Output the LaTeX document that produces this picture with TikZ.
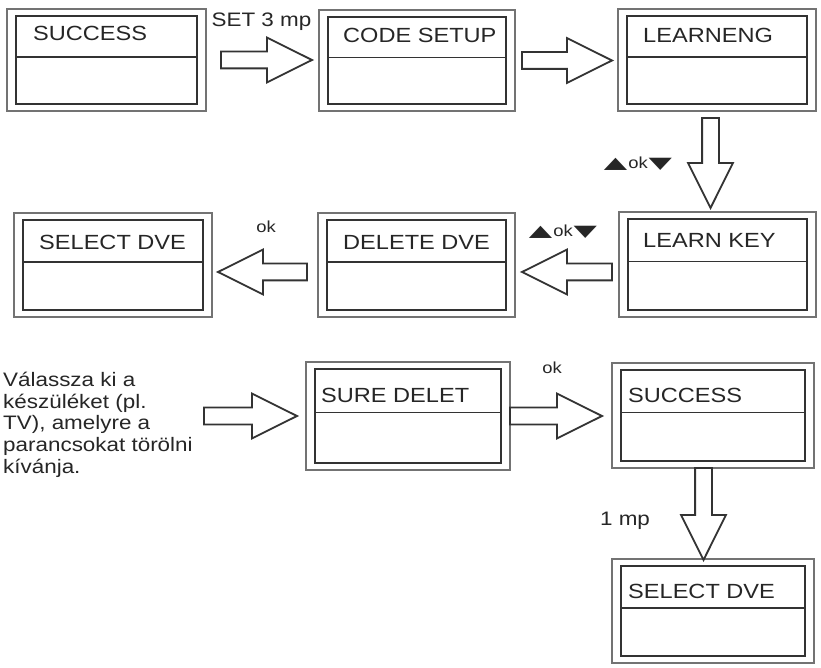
\documentclass[tikz,border=0pt]{standalone}
\usepackage{fontspec}
\setmainfont{Liberation Sans}
\newfontfamily\boxfont[FakeStretch=1.15]{Liberation Sans}
\newfontfamily\symfont[FakeStretch=1.9]{DejaVu Sans}
\usetikzlibrary{shapes.arrows,calc}

\newcommand\keyup{{\symfont\fontsize{16}{18}\selectfont ▲}}
\newcommand\keydown{{\symfont\fontsize{16}{18}\selectfont ▼}}

\tikzset{
  screen/.style={draw=black!55, line width=1.2pt, inner sep=0pt, outer sep=0pt,
    path picture={
      \draw[black!80, line width=1.5pt]
        ([shift={(9pt,-7pt)}]path picture bounding box.north west) rectangle
        ([shift={(-9pt,7pt)}]path picture bounding box.south east);
      \draw[black!80, line width=1.3pt]
        ($(path picture bounding box.north west)!0.47!(path picture bounding box.south west)+(9pt,0pt)$) --
        ($(path picture bounding box.north east)!0.47!(path picture bounding box.south east)+(-9pt,0pt)$);
    }},
  title/.style={anchor=base west, inner sep=0pt, text=black!85,
    font=\boxfont\fontsize{20.5}{24}\selectfont},
  lbl/.style={inner sep=0pt, text=black!85, font=\boxfont\fontsize{19.5}{21.7}\selectfont},
  keylbl/.style={inner sep=0pt, text=black!85, font=\boxfont\fontsize{16}{18}\selectfont},
  blockarrow/.style={single arrow, draw=black!80, line width=1.8pt, fill=white,
    inner sep=7.5pt, outer sep=0pt,
    single arrow head extend=14pt, single arrow tip angle=53, anchor=tail},
}

\begin{document}
\begin{tikzpicture}[x=1pt, y=1pt]
  \useasboundingbox (0,0) rectangle (821,667);

  % top row
  \node[screen, minimum width=199, minimum height=102] (s1) at (106.5,607) {};
  \node[screen, minimum width=196, minimum height=101] (s2) at (417,606.5) {};
  \node[screen, minimum width=198, minimum height=102] (s3) at (717,607) {};
  \node[title] (t1) at ([xshift=26,yshift=-32]s1.north west) {SUCCESS};
  \node[title] (t2) at ([xshift=24,yshift=-33]s2.north west) {CODE SETUP};
  \node[title] (t3) at ([xshift=25,yshift=-34]s3.north west) {LEARNENG};

  % middle row
  \node[screen, minimum width=197, minimum height=105] (s4) at (717.5,402.5) {};
  \node[screen, minimum width=197, minimum height=104] (s5) at (416.5,402) {};
  \node[screen, minimum width=198, minimum height=104] (s6) at (113,402) {};
  \node[title] (t4) at ([xshift=24,yshift=-36]s4.north west) {LEARN KEY};
  \node[title] (t5) at ([xshift=25,yshift=-37]s5.north west) {DELETE DVE};
  \node[title] (t6) at ([xshift=25,yshift=-37]s6.north west) {SELECT DVE};

  % bottom rows
  \node[screen, minimum width=204, minimum height=108] (s7) at (408,251) {};
  \node[screen, minimum width=202, minimum height=105] (s8) at (713,251.5) {};
  \node[screen, minimum width=202, minimum height=104] (s9) at (713,56) {};
  \node[title] (t7) at ([xshift=15,yshift=-40]s7.north west) {SURE DELET};
  \node[title] (t8) at ([xshift=16,yshift=-39]s8.north west) {SUCCESS};
  \node[title] (t9) at ([xshift=16,yshift=-39]s9.north west) {SELECT DVE};

  % note
  \node[lbl, align=left, anchor=north west] (n1) at (3,295)
    {Válassza ki a\\készüléket (pl.\\TV), amelyre a\\parancsokat törölni\\kívánja.};

  % arrows
  \node[blockarrow, minimum height=91] (a1) at ([xshift=15]s1.east) {};
  \node[blockarrow, minimum height=90] (a2) at ([xshift=7]s2.east) {};
  \node[blockarrow, minimum height=90, shape border rotate=270] (a3) at ([xshift=-6.5,yshift=-7]s3.south) {};
  \node[blockarrow, minimum height=90, shape border rotate=180] (a4) at ([xshift=-7,yshift=-7.5]s4.west) {};
  \node[blockarrow, minimum height=89, shape border rotate=180] (a5) at ([xshift=-11,yshift=-7]s5.west) {};
  \node[blockarrow, minimum height=93, anchor=tip] (a6) at ([xshift=-9]s7.west) {};
  \node[blockarrow, minimum height=92] (a7) at (s7.east) {};
  \node[blockarrow, minimum height=92, shape border rotate=270] (a8) at ([xshift=-9.5]s8.south) {};

  % labels
  \node[lbl, anchor=base] (l1) at (261.5,640) {SET 3 mp};
  \node[keylbl, anchor=base] (l2) at (638,498) {\keyup\kern1pt ok\kern1pt\keydown};
  \node[keylbl, anchor=base] (l3) at (563,430) {\keyup\kern1pt ok\kern1pt\keydown};
  \node[keylbl, anchor=base] (l4) at (266,434) {ok};
  \node[keylbl, anchor=base] (l5) at (552,293) {ok};
  \node[lbl, anchor=base] (l6) at (625,142) {1 mp};
\end{tikzpicture}
\end{document}
